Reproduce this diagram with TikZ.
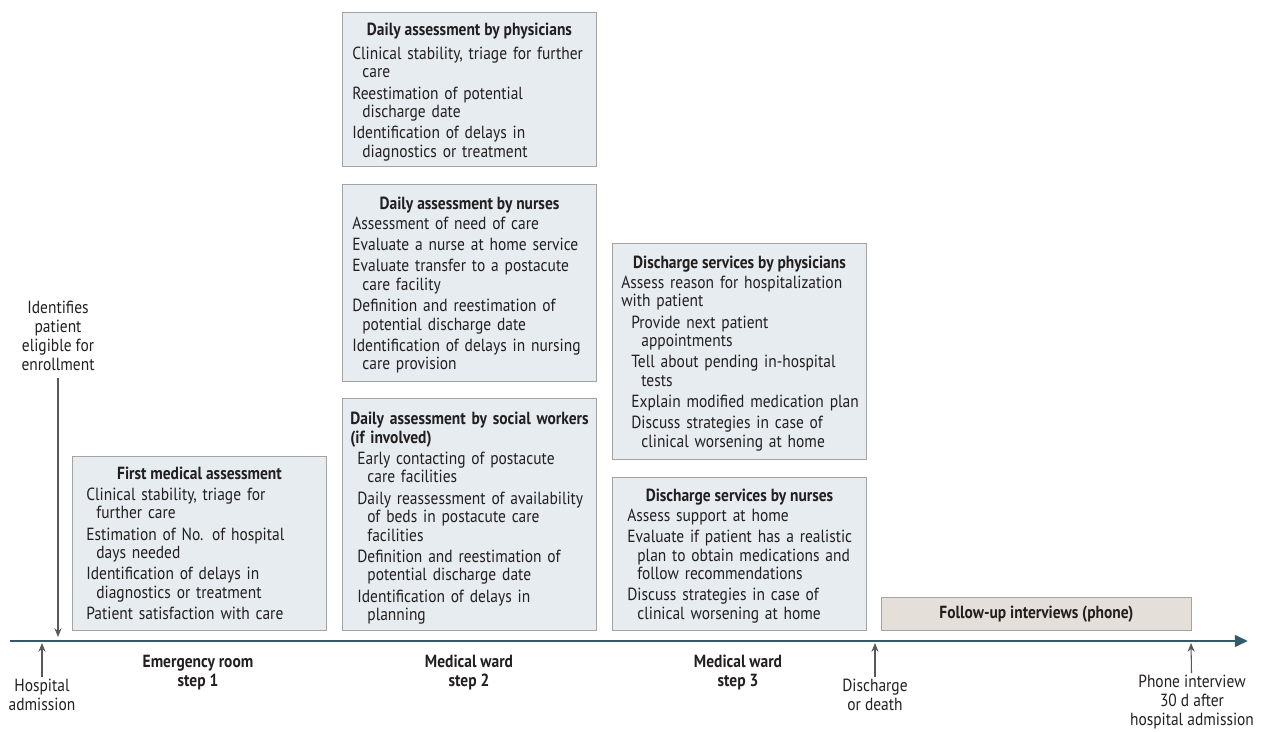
\documentclass[tikz,border=0pt]{standalone}
\usepackage{fontspec}
\setmainfont{PT Sans}[FakeStretch=0.88]
\usepackage{tikz}
\usetikzlibrary{arrows.meta,positioning}

\definecolor{boxfill}{HTML}{E6ECEF}
\definecolor{boxline}{HTML}{A3A3A3}
\definecolor{tanfill}{HTML}{E4E0D9}
\definecolor{axiscol}{HTML}{2F5B6B}
\definecolor{ink}{HTML}{231F20}

% continuation line inside one item
\newcommand\cont{\newline\hspace*{5.7pt}}

\tikzset{
  box/.style={draw=boxline, fill=boxfill, line width=0.6pt, anchor=north west, inner sep=0pt},
  ttl/.style={inner sep=0pt, text=ink, font=\fontsize{10}{10.5}\selectfont\bfseries},
  txt/.style={anchor=north west, inner sep=0pt, align=left, text width=6cm, text=ink,
    font=\fontsize{10}{10.5}\selectfont\setlength\parskip{1.6pt}},
  lbl/.style={align=center, inner sep=0pt, text=ink, font=\fontsize{10}{10.7}\selectfont},
  tick/.style={draw=black!65, line width=0.6pt, -{Stealth[length=5pt,width=4pt]}}
}

\begin{document}
\begin{tikzpicture}[x=0.02cm,y=-0.02cm]
\useasboundingbox (0,0) rectangle (1261,732);

% timeline
\coordinate (t0) at (10,641);
\coordinate (t1) at (1248,641);
\draw[axiscol, line width=1.7pt, -{Triangle[length=7.5pt,width=6.5pt]}] (t0) -- (t1);

% step 1
\node[box, minimum width=5.08cm, minimum height=3.48cm] (b1) at (72,456) {};
\node[ttl, below=0.21cm of b1.north, anchor=north] (b1h) {First medical assessment};
\node[txt] (b1t) at (86,487.5) {%
Clinical stability, triage for\cont further care\par
Estimation of No. of hospital\cont days needed\par
Identification of delays in\cont diagnostics or treatment\par
Patient satisfaction with care};

% step 2
\node[box, minimum width=5.08cm, minimum height=3.08cm] (b2) at (342,12) {};
\node[ttl, below=0.21cm of b2.north, anchor=north] (b2h) {Daily assessment by physicians};
\node[txt] (b2t) at (352,46.5) {%
Clinical stability, triage for further\cont care\par
Reestimation of potential\cont discharge date\par
Identification of delays in\cont diagnostics or treatment};

\node[box, minimum width=5.08cm, minimum height=3.94cm] (b3) at (342,184) {};
\node[ttl, below=0.25cm of b3.north, anchor=north] (b3h) {Daily assessment by nurses};
\node[txt] (b3t) at (352,216.5) {%
Assessment of need of care\par
Evaluate a nurse at home service\par
Evaluate transfer to a postacute\cont care facility\par
Definition and reestimation of\cont potential discharge date\par
Identification of delays in nursing\cont care provision};

\node[box, minimum width=5.08cm, minimum height=4.64cm] (b4) at (342,398) {};
\node[txt] (b4t) at (350,412) {%
{\bfseries Daily assessment by social workers\newline (if involved)\par}
\hspace*{4pt}Early contacting of postacute\cont\hspace*{4pt}care facilities\par
\hspace*{4pt}Daily reassessment of availability\cont\hspace*{4pt}of beds in postacute care\cont\hspace*{4pt}facilities\par
\hspace*{4pt}Definition and reestimation of\cont\hspace*{4pt}potential discharge date\par
\hspace*{4pt}Identification of delays in\cont\hspace*{4pt}planning};

% step 3
\node[box, minimum width=5.08cm, minimum height=4.32cm] (b5) at (612,243) {};
\node[ttl, below=0.25cm of b5.north, anchor=north] (b5h) {Discharge services by physicians};
\node[txt] (b5t) at (621,275.5) {%
Assess reason for hospitalization\newline with patient\par
{\leftskip=5.7pt Provide next patient\cont appointments\par}
{\leftskip=5.7pt Tell about pending in-hospital\cont tests\par}
{\leftskip=5.7pt Explain modified medication plan\par}
{\leftskip=5.7pt Discuss strategies in case of\cont clinical worsening at home\par}};

\node[box, minimum width=5.08cm, minimum height=3.06cm] (b6) at (612,477) {};
\node[ttl, below=0.23cm of b6.north, anchor=north] (b6h) {Discharge services by nurses};
\node[txt] (b6t) at (627,508.5) {%
Assess support at home\par
Evaluate if patient has a realistic\cont plan to obtain medications and\cont follow recommendations\par
Discuss strategies in case of\cont clinical worsening at home};

% follow-up
\node[box, fill=tanfill, minimum width=6.2cm, minimum height=0.66cm] (b7) at (881,597) {};
\node[ttl] (b7h) at (b7.center) {Follow-up interviews (phone)};

% labels and ticks
\node[lbl] (elig) at (58,336) {Identifies\\patient\\eligible for\\enrollment};
\coordinate (e1) at (58,637);
\draw[tick, shorten <=4pt] (elig) -- (e1);

\node[lbl] (adm) at (42,694.5) {Hospital\\admission};
\coordinate (a1) at (42,643);
\draw[tick, shorten <=1pt] (adm) -- (a1);

\node[lbl] (dis) at (875,694.5) {Discharge\\or death};
\coordinate (d1) at (875,643);
\draw[tick, shorten <=1pt] (dis) -- (d1);

\node[lbl] (phone) at (1192,702) {Phone interview\\30 d after\\hospital admission};
\coordinate (p1) at (1191,643);
\draw[tick, shorten <=1pt] (phone) -- (p1);

\node[lbl, font=\fontsize{10}{10.7}\selectfont\bfseries] (s1) at (198,672.5) {Emergency room\\step 1};
\node[lbl, font=\fontsize{10}{10.7}\selectfont\bfseries] (s2) at (469,672.5) {Medical ward\\step 2};
\node[lbl, font=\fontsize{10}{10.7}\selectfont\bfseries] (s3) at (738,672.5) {Medical ward\\step 3};
\end{tikzpicture}
\end{document}
